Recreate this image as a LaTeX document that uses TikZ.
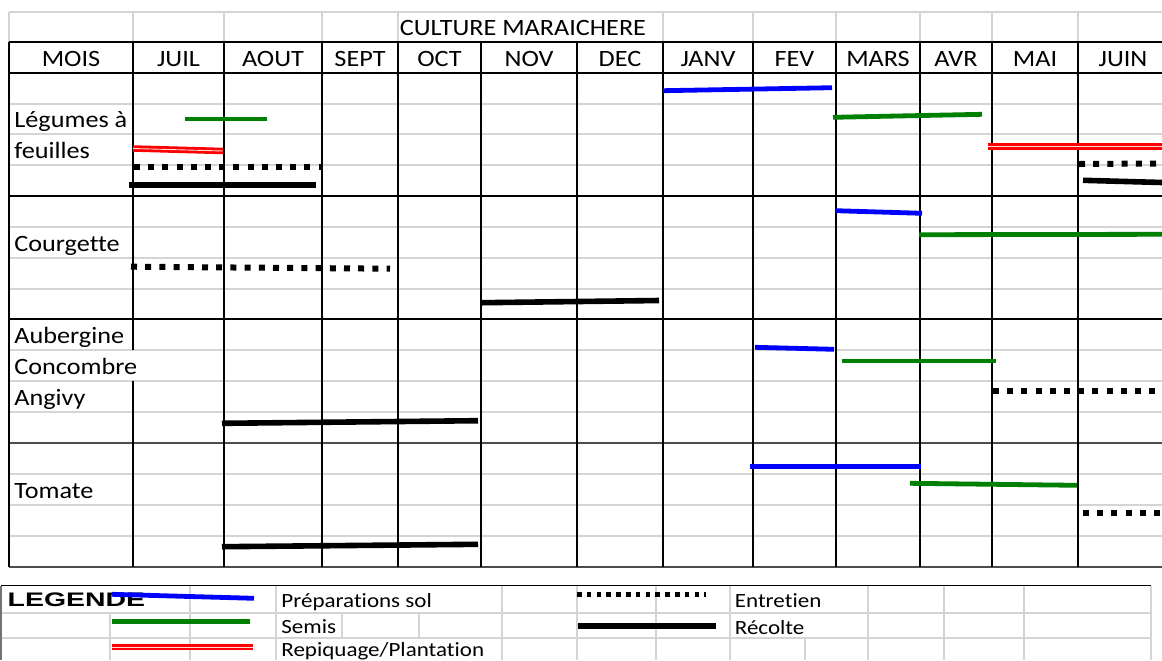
\documentclass[tikz,border=0pt]{standalone}
\usepackage{fontspec}
\setmainfont{Carlito}[FakeStretch=1.12,Ligatures=NoCommon]
\newfontfamily\legendfont{Carlito}[FakeStretch=1.14,Ligatures=NoCommon]
\newfontfamily\legendboldfont{Liberation Sans}[FakeStretch=1.45]
\begin{document}
\begin{tikzpicture}[x=0.5pt,y=0.5pt,
  every node/.style={inner sep=0pt,font=\fontsize{11.7}{14}\selectfont},
  grille/.style={black!17,line width=0.9pt},
  trait/.style={black,line width=1.4pt},
  fin/.style={black,line width=0.7pt},
  prepa/.style={blue,line width=2.4pt},
  semis/.style={green!50!black,line width=2.4pt},
  repiq/.style={red,line width=1.4pt,double=red!15,double distance=0.45pt},
  entretien/.style={black,line width=3pt,dash pattern=on 3pt off 4.1pt},
  recolte/.style={black,line width=2.8pt},
  legtexte/.style={font=\legendfont\fontsize{10.1}{12}\selectfont,anchor=base west}]
\useasboundingbox (0,0) rectangle (1162,-660);
\clip (0,0) rectangle (1162,-660);
\draw [grille] (9,-12) -- (1162,-12);
\draw [grille] (9,-104) -- (1162,-104);
\draw [grille] (9,-134) -- (1162,-134);
\draw [grille] (9,-165) -- (1162,-165);
\draw [grille] (9,-227) -- (1162,-227);
\draw [grille] (9,-258) -- (1162,-258);
\draw [grille] (9,-289) -- (1162,-289);
\draw [grille] (9,-350) -- (1162,-350);
\draw [grille] (9,-381) -- (1162,-381);
\draw [grille] (9,-412) -- (1162,-412);
\draw [grille] (9,-474) -- (1162,-474);
\draw [grille] (9,-505) -- (1162,-505);
\draw [grille] (9,-536) -- (1162,-536);
\draw [grille] (9,-12) -- (9,-42);
\draw [grille] (133,-12) -- (133,-42);
\draw [grille] (224,-12) -- (224,-42);
\draw [grille] (322,-12) -- (322,-42);
\draw [grille] (398,-12) -- (398,-42);
\draw [grille] (663,-12) -- (663,-42);
\draw [grille] (753,-12) -- (753,-42);
\draw [grille] (836,-12) -- (836,-42);
\draw [grille] (920,-12) -- (920,-42);
\draw [grille] (992,-12) -- (992,-42);
\draw [grille] (1078,-12) -- (1078,-42);
\draw [trait] (9,-42) -- (1162,-42);
\draw [black,line width=0.9pt] (9,-73) -- (1162,-73);
\draw [black,line width=1pt] (9,-196) -- (1162,-196);
\draw [black,line width=1pt] (9,-319) -- (1162,-319);
\draw [black!70,line width=1pt] (9,-443) -- (1162,-443);
\draw [black!70,line width=1.1pt] (9,-567) -- (1162,-567);
\draw [black,line width=1pt] (9,-42) -- (9,-567);
\draw [trait] (133,-42) -- (133,-350);
\draw [trait] (133,-381) -- (133,-567);
\draw [black,line width=0.9pt] (224,-42) -- (224,-567);
\draw [fin] (322,-42) -- (322,-567);
\draw [trait] (398,-42) -- (398,-567);
\draw [fin] (481,-42) -- (481,-567);
\draw [trait] (577,-42) -- (577,-567);
\draw [trait] (663,-42) -- (663,-567);
\draw [trait] (753,-42) -- (753,-567);
\draw [fin] (836,-42) -- (836,-567);
\draw [fin] (920,-42) -- (920,-567);
\draw [trait] (992,-42) -- (992,-567);
\draw [trait] (1078,-42) -- (1078,-567);
\draw (523,-35.5) node [anchor=base] (titre) {CULTURE MARAICHERE};
\draw (71,-66.5) node [anchor=base] (mois) {MOIS};
\draw (178.5,-66.5) node [anchor=base] (juil) {JUIL};
\draw (273,-66.5) node [anchor=base] (aout) {AOUT};
\draw (360,-66.5) node [anchor=base] (sept) {SEPT};
\draw (439.5,-66.5) node [anchor=base] (oct) {OCT};
\draw (529,-66.5) node [anchor=base] (nov) {NOV};
\draw (620,-66.5) node [anchor=base] (dec) {DEC};
\draw (708,-66.5) node [anchor=base] (janv) {JANV};
\draw (794.5,-66.5) node [anchor=base] (fev) {FEV};
\draw (878,-66.5) node [anchor=base] (mars) {MARS};
\draw (956,-66.5) node [anchor=base] (avr) {AVR};
\draw (1035,-66.5) node [anchor=base] (mai) {MAI};
\draw (1123,-66.5) node [anchor=base] (juin) {JUIN};
\draw (14,-127.5) node [anchor=base west] (legumes) {Légumes à};
\draw (14,-158.5) node [anchor=base west] (feuilles) {feuilles};
\draw (14,-251) node [anchor=base west] (courgette) {Courgette};
\draw (14,-343.5) node [anchor=base west] (aubergine) {Aubergine};
\draw (14,-374.5) node [anchor=base west] (concombre) {Concombre};
\draw (14,-405.5) node [anchor=base west] (angivy) {Angivy};
\draw (14,-498.5) node [anchor=base west] (tomate) {Tomate};
\draw [prepa] (663,-90.7) -- (832,-87.7);
\draw [semis] (185,-119) -- (267,-119);
\draw [semis] (833,-117.3) -- (982,-114.3);
\draw [repiq] (133,-148.5) -- (223,-151);
\draw [repiq] (988,-146.5) -- (1162,-146.5);
\draw [entretien] (134,-166.5) -- (322,-166.5);
\draw [entretien] (1079,-164) -- (1162,-163.5);
\draw [recolte] (128.5,-185) -- (316,-185);
\draw [recolte] (1083,-180.3) -- (1162,-182.5);
\draw [prepa] (836,-210.7) -- (922,-213.3);
\draw [semis] (919,-234.7) -- (1162,-234.3);
\draw [entretien] (131,-266.7) -- (390,-268.7);
\draw [recolte] (482,-302.7) -- (659,-300.5);
\draw [prepa] (755,-347.3) -- (834,-349.3);
\draw [semis] (842,-361) -- (996,-361);
\draw [entretien] (993,-390.5) -- (1162,-390.5);
\draw [recolte] (222,-423.3) -- (478,-420.7);
\draw [prepa] (750,-466.3) -- (921,-466.3);
\draw [semis] (910,-483.3) -- (1077,-485.3);
\draw [entretien] (1083,-512.5) -- (1162,-512.5);
\draw [recolte] (222,-546.7) -- (478,-544.3);
\draw [grille] (1,-613.3) -- (1151,-613.3);
\draw [grille] (1,-638.3) -- (1151,-638.3);
\draw [black!55,line width=0.8pt] (1,-586) -- (1,-660);
\draw [grille] (110,-613.3) -- (110,-660);
\draw [grille] (190,-586) -- (190,-660);
\draw [grille] (276,-586) -- (276,-660);
\draw [grille] (342,-613.3) -- (342,-638.3);
\draw [grille] (419,-613.3) -- (419,-638.3);
\draw [grille] (502,-586) -- (502,-660);
\draw [grille] (577,-586) -- (577,-660);
\draw [grille] (656,-586) -- (656,-660);
\draw [grille] (730,-586) -- (730,-660);
\draw [grille] (805,-638.3) -- (805,-660);
\draw [grille] (868,-586) -- (868,-660);
\draw [grille] (944,-586) -- (944,-660);
\draw [grille] (1024,-586) -- (1024,-660);
\draw [grille] (1151,-586) -- (1151,-660);
\draw [black,line width=0.8pt] (1,-585.5) -- (1151,-585.5);
\draw (7.3,-606.7) node [anchor=base west,font=\legendboldfont\bfseries\fontsize{9.8}{12}\selectfont] (legende) {LEGENDE};
\draw (281,-607.5) node [legtexte] (txtprepa) {Préparations sol};
\draw (281,-633.5) node [legtexte] (txtsemis) {Semis};
\draw (281,-656) node [legtexte] (txtrepiq) {Repiquage/Plantation};
\draw (734.5,-607.5) node [legtexte] (txtentretien) {Entretien};
\draw (734.5,-634) node [legtexte] (txtrecolte) {Récolte};
\draw [prepa] (112,-594.3) -- (254,-598.3);
\draw [semis] (111.5,-621.7) -- (249.5,-621.7);
\draw [repiq] (111.5,-647) -- (252.5,-647);
\draw [black,line width=2.4pt,dash pattern=on 2.3pt off 2.6pt] (577,-594.3) -- (706,-594.3);
\draw [recolte] (578,-625.7) -- (715.5,-625.7);
\end{tikzpicture}
\end{document}
